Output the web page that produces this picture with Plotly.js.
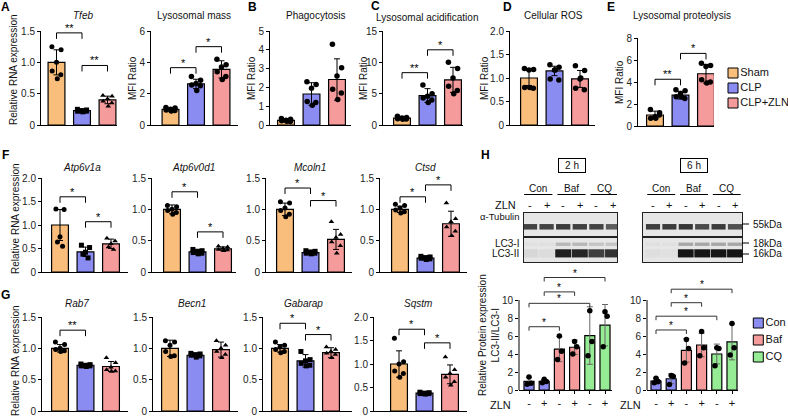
<!DOCTYPE html>
<html><head><meta charset="utf-8">
<script src="https://cdn.plot.ly/plotly-3.0.1.min.js"></script>
<style>html,body{margin:0;padding:0;background:#fff}#plot{width:788px;height:418px}</style>
</head><body><div id="plot"></div>
<script>
// ================= DATA =================
const groupNames = ['Sham','CLP','CLP+ZLN'];
const treatNames = ['Con','Baf','CQ'];
const zlnSigns = ['-','+','-','+','-','+'];
const laneTreat = [0,0,1,1,2,2];
const blotLanes = [0,1,2,3,4,5];

// A
const tfebMean=[1.00,0.23,0.40], tfebSD=[0.20,0.02,0.06];
const tfebPts=[[1.25,1.20,1.00,0.86,0.80,0.74],[0.25,0.24,0.23,0.22,0.22,0.21],[0.47,0.46,0.42,0.38,0.35,0.30]];
const tfebSig=[[0,1,1.47,'**'],[1,2,0.95,'**']];
const lysMassMean=[1.00,2.62,3.55], lysMassSD=[0.10,0.30,0.55];
const lysMassPts=[[1.12,1.08,1.00,0.95,0.92,0.90],[3.10,2.85,2.65,2.55,2.50,2.20],[4.20,3.85,3.70,3.40,3.10,2.90]];
const lysMassSig=[[0,1,3.66,'*'],[1,2,5.0,'*']];
// B
const phagoMean=[0.25,1.65,2.42], phagoSD=[0.06,0.60,1.10];
const phagoPts=[[0.35,0.30,0.25,0.22,0.18,0.20],[2.30,2.15,1.95,1.25,1.20,1.05],[4.30,3.05,2.60,1.90,1.70,1.35]];
const phagoSig=[];
// C
const acidMean=[1.10,4.70,7.20], acidSD=[0.20,1.10,2.00];
const acidPts=[[1.40,1.20,1.10,1.00,0.95,0.90],[6.40,5.00,4.60,4.30,4.00,3.60],[10.0,9.00,7.50,6.20,5.50,5.00]];
const acidSig=[[0,1,8.35,'**'],[1,2,12.0,'*']];
// D
const rosMean=[1.00,1.15,0.98], rosSD=[0.16,0.10,0.18];
const rosPts=[[1.20,1.18,1.17,0.80,0.78,0.80],[1.28,1.23,1.17,0.98,0.96,1.17],[1.26,1.16,0.98,0.78,0.75,1.00]];
const rosSig=[];
// E
const protMean=[1.00,2.80,4.75], protSD=[0.35,0.35,0.85];
const protPts=[[1.50,1.20,0.85,0.70,1.00,0.70],[3.30,3.20,2.96,2.66,2.50,2.66],[5.70,5.50,5.40,4.20,4.00,3.90]];
const protSig=[[0,1,4.25,'**'],[1,2,6.6,'*']];
// F
const atp6v1aMean=[1.00,0.43,0.60], atp6v1aSD=[0.33,0.10,0.10];
const atp6v1aPts=[[1.34,1.33,0.75,0.64,0.55],[0.57,0.52,0.42,0.38,0.30],[0.72,0.66,0.60,0.53,0.48]];
const atp6v1aSig=[[0,1,1.60,'*'],[1,2,1.07,'*']];
const atp6v0d1Mean=[1.00,0.32,0.37], atp6v0d1SD=[0.07,0.04,0.03];
const atp6v0d1Pts=[[1.06,1.04,1.00,0.98,0.95,0.92],[0.36,0.34,0.33,0.31,0.30,0.29],[0.41,0.40,0.38,0.36,0.35,0.34]];
const atp6v0d1Sig=[[0,1,1.28,'*'],[1,2,0.64,'*']];
const mcoln1Mean=[1.00,0.31,0.52], mcoln1SD=[0.10,0.03,0.16];
const mcoln1Pts=[[1.12,1.10,1.02,0.98,0.92,0.88],[0.34,0.33,0.32,0.30,0.30,0.29],[0.80,0.60,0.55,0.48,0.42,0.30]];
const mcoln1Sig=[[0,1,1.34,'*'],[1,2,1.14,'*']];
const ctsdMean=[1.00,0.22,0.77], ctsdSD=[0.05,0.03,0.20];
const ctsdPts=[[1.08,1.06,1.02,0.99,0.96,0.94],[0.25,0.24,0.23,0.22,0.21,0.20],[1.10,0.85,0.80,0.72,0.65,0.58]];
const ctsdSig=[[0,1,1.20,'*'],[1,2,1.39,'*']];
// G
const rab7Mean=[1.00,0.73,0.71], rab7SD=[0.06,0.015,0.08];
const rab7Pts=[[1.10,1.06,1.00,0.98,0.96,0.95],[0.75,0.74,0.73,0.72,0.72,0.71],[0.85,0.77,0.70,0.66,0.64,0.63]];
const rab7Sig=[[0,1,1.29,'**']];
const becn1Mean=[1.00,0.89,0.98], becn1SD=[0.13,0.025,0.12];
const becn1Pts=[[1.12,1.10,1.05,0.95,0.88,0.87],[0.92,0.91,0.90,0.89,0.88,0.86],[1.12,1.05,1.00,0.95,0.90,0.85]];
const becn1Sig=[];
const gabarapMean=[1.00,0.80,0.93], gabarapSD=[0.06,0.10,0.08];
const gabarapPts=[[1.10,1.05,1.02,0.98,0.95,0.93],[0.95,0.82,0.80,0.76,0.73,0.72],[1.02,0.98,0.95,0.92,0.90,0.85]];
const gabarapSig=[[0,1,1.40,'*'],[1,2,1.22,'*']];
const sqstmMean=[1.00,0.38,0.78], sqstmSD=[0.28,0.02,0.20];
const sqstmPts=[[1.55,1.05,1.00,0.85,0.80,0.72],[0.40,0.39,0.38,0.37,0.37,0.36],[1.15,0.88,0.80,0.72,0.62,0.55]];
const sqstmSig=[[0,1,1.74,'*'],[1,2,1.45,'*']];
// H quantification
const h2Mean=[0.95,0.97,4.55,4.75,6.05,7.20], h2SD=[0.45,0.20,1.40,0.80,3.20,2.30];
const h2Pts=[[1.45,0.75,0.65],[1.20,0.95,0.80],[6.00,4.30,3.40],[5.40,4.80,4.00],[8.80,5.40,3.80],[8.70,8.20,4.80]];
const h2Sig=[[0,2,7.03,'*'],[0,4,9.63,'*'],[1,3,10.9,'*'],[1,5,12.5,'*']];
const h6Mean=[1.00,1.25,4.40,5.00,4.00,5.35], h6SD=[0.35,0.55,1.30,1.30,1.10,2.00];
const h6Pts=[[1.30,0.95,0.80],[1.60,1.50,0.60],[5.60,4.60,3.00],[6.50,4.70,3.80],[4.70,4.60,2.70],[7.40,4.70,3.90]];
const h6Sig=[[0,2,6.67,'*'],[0,4,8.2,'*'],[1,3,9.7,'*'],[1,5,11.2,'*']];
// H blots (band intensity per lane, 0..1)
const blot2hTubulin=[0.78,0.78,0.82,0.80,0.78,0.66];
const blot2hLC3I=[0.03,0.03,0.22,0.22,0.16,0.16];
const blot2hLC3II=[0.07,0.05,0.95,0.92,0.80,0.86];
const blot6hTubulin=[0.80,0.82,0.84,0.74,0.82,0.72];
const blot6hLC3I=[0.03,0.03,0.30,0.30,0.30,0.30];
const blot6hLC3II=[0.04,0.03,1.00,1.00,1.00,1.00];

// ================= STYLE / LAYOUT =================
const W=788,H=418;
const FONT='Arial, "Liberation Sans", Helvetica, sans-serif';
const COL=['#f9be7c','#8b8cf2','#f59b9c'];
const HCOL=['#8b8cf2','#f59b9c','#95ec95'];
const SQ=['circle','square','triangle-up'], SC=['circle','circle','circle'];
const px=v=>v/W, py=v=>1-v/H;
const traces=[], ann=[], shapes=[];
const layout={width:W,height:H,margin:{l:0,r:0,t:0,b:0},paper_bgcolor:'#fff',plot_bgcolor:'rgba(0,0,0,0)',
  showlegend:false,barmode:'overlay',font:{family:FONT,size:10,color:'#111'}};
let nAx=0;
function axes(){nAx++;const s=nAx===1?'':String(nAx);return {xk:'xaxis'+s,yk:'yaxis'+s,x:'x'+s,y:'y'+s};}
function txt(t,x,y,o){ann.push(Object.assign({text:t,x:px(x),y:py(y),xref:'paper',yref:'paper',showarrow:false,
  font:{family:FONT,size:10,color:'#111'},xanchor:'center',yanchor:'middle'},o||{}));}
function pline(x0,y0,x1,y1,w,c){shapes.push({type:'line',xref:'paper',yref:'paper',x0:px(x0),x1:px(x1),y0:py(y0),y1:py(y1),line:{color:c||'#000',width:w||1}});}

function barPanel(c){
  const a=axes();
  const s=c.sp||25.5;
  const ppu=(c.yb-c.yt)/c.ymax;
  const ytop=c.ytop||c.ymax;
  const domTop=c.yb-ytop*ppu;
  const idx=c.mean.map((_,i)=>i);
  const colors=c.colors||COL;
  layout[a.xk]={domain:[px(c.x0),px(c.x1)],anchor:a.y,range:[(c.x0-c.c0)/s,(c.x1-c.c0)/s],showline:true,linecolor:'#000',linewidth:1,
    showgrid:false,zeroline:false,ticks:c.xlab?'outside':'',ticklen:3,tickcolor:'#000',showticklabels:!!c.xlab,
    tickvals:idx,ticktext:c.xlab||[],tickfont:{family:FONT,size:11,color:'#111'},fixedrange:true};
  const tv=[];for(let v=0;v<=c.ymax+1e-9;v+=c.dt)tv.push(+v.toFixed(3));
  layout[a.yk]={domain:[py(c.yb),py(domTop)],anchor:a.x,range:[0,ytop],showline:!c.ytop,linecolor:'#000',linewidth:1,
    showgrid:false,zeroline:false,ticks:'outside',ticklen:3,tickcolor:'#000',tickwidth:1,tickvals:tv,
    ticktext:tv.map(v=>v===0?'0':v.toFixed(c.dec)),tickfont:{family:FONT,size:10,color:'#222'},fixedrange:true};
  if(c.ytop) shapes.push({type:'line',xref:a.x+' domain',yref:a.y,x0:0,x1:0,y0:0,y1:c.ymax,line:{color:'#000',width:1}});
  traces.push({type:'bar',x:idx,y:c.mean,xaxis:a.x,yaxis:a.y,width:0.66,
    marker:{color:idx.map(i=>colors[c.colorIdx?c.colorIdx[i]:i]),line:{color:'#000',width:1.2}},
    error_y:{type:'data',array:c.sd,visible:true,color:c.ecol||'#000',thickness:1,width:3}});
  const n=c.pts[0].length;
  const jit=n===3?[0,0.14,-0.12]:n===5?[-0.16,0.16,0,-0.1,0.1]:[-0.18,0.18,0,-0.17,0.17,0.03];
  c.pts.forEach((p,g)=>{traces.push({type:'scatter',mode:'markers',x:p.map((_,k)=>g+jit[k%jit.length]),y:p,
    xaxis:a.x,yaxis:a.y,cliponaxis:false,marker:{color:'#000',size:c.ms||5,symbol:c.sym?c.sym[g]:'circle'}});});
  if(c.sig.length){
    const bx=[],by=[];const d=(c.drop||6)/ppu;
    c.sig.forEach(([i,j,h,st])=>{bx.push(i,i,j,j,null);by.push(h-d,h,h,h-d,null);
      ann.push({text:st,x:(i+j)/2,y:h,xref:a.x,yref:a.y,showarrow:false,yanchor:'bottom',yshift:-3,
        font:{family:FONT,size:c.sfs||11,color:'#000'}});});
    traces.push({type:'scatter',mode:'lines',x:bx,y:by,xaxis:a.x,yaxis:a.y,cliponaxis:false,line:{color:c.bcol||'#000',width:1}});
  }
  if(c.title) txt(c.title,c.tx,c.ty);
  if(c.ylab) txt(c.ylab,c.ylx,c.yly,{textangle:-90});
  return a;
}

function legendBox(names,colors,x,y0,step){
  const a=axes();const n=names.length;
  layout[a.xk]={domain:[px(x-6),px(x+54)],anchor:a.y,range:[-6,54],visible:false,fixedrange:true};
  layout[a.yk]={domain:[py(y0+step*(n-0.5)),py(y0-step*0.5)],anchor:a.x,range:[n-0.5,-0.5],visible:false,fixedrange:true};
  traces.push({type:'scatter',mode:'markers+text',x:names.map(()=>0),y:names.map((_,i)=>i),text:names,
    textposition:'middle right',textfont:{family:FONT,size:11,color:'#111'},cliponaxis:false,xaxis:a.x,yaxis:a.y,
    marker:{symbol:'square',size:10,color:colors,line:{color:'#000',width:1}}});
}

function blotBox(x0,x1,yt,yb,lo,hi,bands){
  const a=axes();
  const ax={showline:true,mirror:true,linecolor:'#222',linewidth:1.3,ticks:'',showticklabels:false,showgrid:false,zeroline:false,fixedrange:true};
  layout[a.xk]=Object.assign({domain:[px(x0),px(x1)],anchor:a.y,range:[lo,hi]},ax);
  layout[a.yk]=Object.assign({domain:[py(yb),py(yt)],anchor:a.x,range:[0,1]},ax);
  shapes.push({type:'rect',xref:a.x+' domain',yref:a.y+' domain',x0:0,x1:1,y0:0,y1:1,fillcolor:'#e6e6e6',line:{width:0},layer:'below'});
  bands.forEach(b=>traces.push({type:'bar',x:blotLanes,y:blotLanes.map(()=>b.th),base:blotLanes.map(()=>b.c-b.th/2),width:b.w,
    xaxis:a.x,yaxis:a.y,marker:{color:b.v,cmin:0,cmax:1,colorscale:[[0,'#e6e6e6'],[1,'#151515']],line:{width:0}}}));
  return a;
}

// ---- Row A-E ----
const rowTop=[
 {mean:tfebMean,sd:tfebSD,pts:tfebPts,sig:tfebSig,x0:41,c0:56.5,x1:117,yt:31,yb:125,ymax:1.5,dt:0.5,dec:1,title:'<i>Tfeb</i>',tx:83,ty:16,ylab:'Relative RNA expression',ylx:13,yly:70,sym:SQ},
 {mean:lysMassMean,sd:lysMassSD,pts:lysMassPts,sig:lysMassSig,x0:151,c0:170.5,x1:238,yt:31,yb:125,ymax:6,dt:2,dec:0,title:'Lysosomal mass',tx:194,ty:16,ylab:'MFI Ratio',ylx:133,yly:78,sym:SC,ms:5.5},
 {mean:phagoMean,sd:phagoSD,pts:phagoPts,sig:phagoSig,x0:270,c0:286,x1:351,yt:31,yb:125,ymax:5,dt:1,dec:0,title:'Phagocytosis',tx:315,ty:16,ylab:'MFI Ratio',ylx:252,yly:78,sym:SC,ms:5.5},
 {mean:acidMean,sd:acidSD,pts:acidPts,sig:acidSig,x0:383,c0:402,x1:463,yt:31,yb:125,ymax:15,dt:5,dec:0,title:'Lysosomal acidification',tx:427,ty:17,ylab:'MFI Ratio',ylx:364,yly:78,sym:SC,ms:5.5},
 {mean:rosMean,sd:rosSD,pts:rosPts,sig:rosSig,x0:510,c0:529,x1:595,yt:31,yb:125,ymax:2,dt:0.5,dec:1,title:'Cellular ROS',tx:553,ty:16,ylab:'MFI Ratio',ylx:485,yly:78,sym:SC,ms:5.5},
 {mean:protMean,sd:protSD,pts:protPts,sig:protSig,x0:638,c0:655,x1:714,yt:38,yb:126,ymax:8,dt:2,dec:0,title:'Lysosomal proteolysis',tx:682,ty:16,ylab:'MFI Ratio',ylx:619,yly:82,sym:SC,ms:5.5}
];
rowTop.forEach(barPanel);

// ---- Row F ----
const rowF=[
 {mean:atp6v1aMean,sd:atp6v1aSD,pts:atp6v1aPts,sig:atp6v1aSig,x0:42,c0:60,x1:128,ymax:2,dt:0.5,dec:1,title:'<i>Atp6v1a</i>',tx:82,ylab:'Relative RNA expression',ylx:15,yly:219},
 {mean:atp6v0d1Mean,sd:atp6v0d1SD,pts:atp6v0d1Pts,sig:atp6v0d1Sig,x0:152,c0:172,x1:236,ymax:1.5,dt:0.5,dec:1,title:'<i>Atp6v0d1</i>',tx:193},
 {mean:mcoln1Mean,sd:mcoln1SD,pts:mcoln1Pts,sig:mcoln1Sig,x0:266,c0:285,x1:352,ymax:1.5,dt:0.5,dec:1,title:'<i>Mcoln1</i>',tx:310},
 {mean:ctsdMean,sd:ctsdSD,pts:ctsdPts,sig:ctsdSig,x0:380,c0:400,x1:467,ymax:1.5,dt:0.5,dec:1,title:'<i>Ctsd</i>',tx:425}
];
rowF.forEach(c=>barPanel(Object.assign({yt:178,yb:272,ty:167,sym:SQ},c)));

// ---- Row G ----
const rowG=[
 {mean:rab7Mean,sd:rab7SD,pts:rab7Pts,sig:rab7Sig,x0:42,c0:60,x1:128,ymax:1.5,title:'<i>Rab7</i>',tx:77,ylab:'Relative RNA expression',ylx:15,yly:361},
 {mean:becn1Mean,sd:becn1SD,pts:becn1Pts,sig:becn1Sig,x0:153,c0:170,x1:238,ymax:1.5,title:'<i>Becn1</i>',tx:192},
 {mean:gabarapMean,sd:gabarapSD,pts:gabarapPts,sig:gabarapSig,x0:263,c0:280,x1:352,ymax:1.5,title:'<i>Gabarap</i>',tx:303},
 {mean:sqstmMean,sd:sqstmSD,pts:sqstmPts,sig:sqstmSig,x0:374,c0:399,x1:467,ymax:2,title:'<i>Sqstm</i>',tx:418}
];
rowG.forEach(c=>barPanel(Object.assign({yt:317,yb:411,ty:303,dt:0.5,dec:1,sym:SQ},c)));

// ---- H quantification ----
const hBase={yt:300,yb:390,ymax:10,ytop:13.6,dt:2,dec:0,sp:15.2,colors:HCOL,colorIdx:laneTreat,xlab:zlnSigns,ecol:'#666',bcol:'#333',drop:4,sfs:10,ms:5.5,sym:['circle','circle','circle','circle','circle','circle']};
barPanel(Object.assign({},hBase,{mean:h2Mean,sd:h2SD,pts:h2Pts,sig:h2Sig,x0:519,c0:529,x1:612,
  ylab:'Relative Protein expression<br>LC3-II/LC3-I',ylx:489,yly:335}));
barPanel(Object.assign({},hBase,{mean:h6Mean,sd:h6SD,pts:h6Pts,sig:h6Sig,x0:647,c0:656,x1:738}));
txt('ZLN',513,405,{xanchor:'right',font:{family:FONT,size:11,color:'#111'}});
txt('ZLN',643,405,{xanchor:'right',font:{family:FONT,size:11,color:'#111'}});

// ---- H blots ----
const blots=[
 {x0:524,x1:617,lo:-0.36,hi:5.24,tub:blot2hTubulin,l1:blot2hLC3I,l2:blot2hLC3II,label:'2 h'},
 {x0:643,x1:742,lo:-0.61,hi:5.43,tub:blot6hTubulin,l1:blot6hLC3I,l2:blot6hLC3II,label:'6 h'}
];
blots.forEach(b=>{
  const t=blotBox(b.x0,b.x1,213,236,b.lo,b.hi,[{v:b.tub,c:0.40,th:0.24,w:0.86}]);
  blotBox(b.x0,b.x1,238,262,b.lo,b.hi,[{v:b.l1,c:0.74,th:0.14,w:0.9},{v:b.l2,c:0.36,th:0.34,w:0.96}]);
  ann.push({text:b.label,x:2.5,y:py(166),xref:t.x,yref:'paper',showarrow:false,bordercolor:'#000',borderwidth:1,borderpad:2,
    width:22,height:9,font:{family:FONT,size:10,color:'#111'}});
  treatNames.forEach((nm,k)=>{
    ann.push({text:nm,x:2*k+0.5,y:py(188),xref:t.x,yref:'paper',showarrow:false,font:{family:FONT,size:10,color:'#111'}});
    shapes.push({type:'line',xref:t.x,yref:'paper',x0:2*k-0.35,x1:2*k+1.35,y0:py(194.5),y1:py(194.5),line:{color:'#000',width:1}});
  });
  zlnSigns.forEach((sg,k)=>ann.push({text:sg,x:k,y:py(205),xref:t.x,yref:'paper',showarrow:false,font:{family:FONT,size:11,color:'#111'}}));
});
txt('ZLN',518,205,{xanchor:'right',font:{family:FONT,size:11,color:'#111'}});
txt('α-Tubulin',521,216,{xanchor:'right',font:{family:FONT,size:9.5,color:'#111'}});
txt('LC3-I',521,243,{xanchor:'right'});
txt('LC3-II',521,254,{xanchor:'right'});
[['55kDa',224],['18kDa',243],['16kDa',254]].forEach(([t,y])=>{pline(742,y,749,y,1);txt(t,751,y,{xanchor:'left'});});

// ---- legends ----
legendBox(groupNames,COL,733,73,15);
legendBox(treatNames,HCOL,761,323,17);

// ---- panel letters ----
[['A',5,7],['B',252,7],['C',375,6],['D',507,7],['E',611,7],['F',5,155],['G',5,295],['H',485,155]]
 .forEach(([l,x,y])=>txt('<b>'+l+'</b>',x,y,{font:{family:FONT,size:12,color:'#000'}}));

layout.annotations=ann; layout.shapes=shapes;
Plotly.newPlot('plot',traces,layout,{staticPlot:true,displayModeBar:false});
</script></body></html>
